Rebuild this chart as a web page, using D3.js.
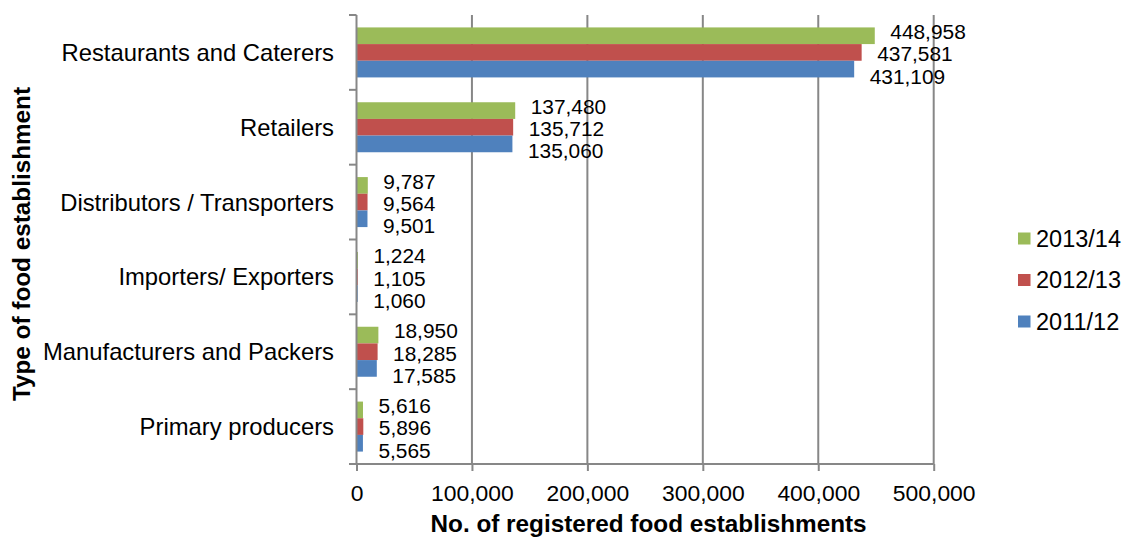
<!DOCTYPE html>
<html>
<head>
<meta charset="utf-8">
<script src="https://cdn.jsdelivr.net/npm/d3@7"></script>
<style>
  html, body { margin: 0; padding: 0; background: #fff; }
  svg { display: block; font-family: Arial, "Liberation Sans", sans-serif; }
</style>
</head>
<body>
<svg id="chart" width="1126" height="538"></svg>
<script>
// Registered food establishments by type, three reporting years
const categories = [
  "Restaurants and Caterers",
  "Retailers",
  "Distributors / Transporters",
  "Importers/ Exporters",
  "Manufacturers and Packers",
  "Primary producers"
];
const seriesNames = ["2013/14", "2012/13", "2011/12"];
const values2013 = [448958, 137480, 9787, 1224, 18950, 5616];
const values2012 = [437581, 135712, 9564, 1105, 18285, 5896];
const values2011 = [431109, 135060, 9501, 1060, 17585, 5565];
const seriesColors = ["#9BBB59", "#C0504D", "#4F81BD"];
const xTicks = [0, 100000, 200000, 300000, 400000, 500000];
const xTitle = "No. of registered food establishments";
const yTitle = "Type of food establishment";

const seriesValues = [values2013, values2012, values2011];

const svg = d3.select("#chart");
const plot = { left: 356.5, right: 933.7, top: 15, bottom: 464 };
const axisColor = "#878787";
const fmt = d3.format(",");

const x = d3.scaleLinear().domain([0, 500000]).range([plot.left, plot.right]);
const y = d3.scaleBand().domain(categories).range([plot.top, plot.bottom]).padding(0);
const yInner = d3.scaleBand().domain(seriesNames).range([0, y.bandwidth()])
  .paddingInner(0).paddingOuter(0.745);

// vertical gridlines
svg.append("g").selectAll("line").data(xTicks.slice(1)).join("line")
  .attr("x1", d => x(d)).attr("x2", d => x(d))
  .attr("y1", plot.top).attr("y2", plot.bottom)
  .attr("stroke", axisColor).attr("stroke-width", 2);

// bars
const groups = svg.append("g").selectAll("g").data(categories).join("g")
  .attr("transform", c => `translate(0,${y(c)})`);

groups.each(function (c, ci) {
  const g = d3.select(this);
  seriesNames.forEach((s, si) => {
    const v = seriesValues[si][ci];
    g.append("rect")
      .attr("x", x(0))
      .attr("y", yInner(s))
      .attr("width", x(v) - x(0))
      .attr("height", yInner.bandwidth())
      .attr("fill", seriesColors[si]);
  });
});

// data labels, stacked around the middle bar so they don't overlap
const labelStep = 22.3;
groups.each(function (c, ci) {
  const g = d3.select(this);
  const mid = y.bandwidth() / 2 + 1.3;
  seriesNames.forEach((s, si) => {
    const v = seriesValues[si][ci];
    g.append("text")
      .attr("x", x(v) + 15.5)
      .attr("y", mid + (si - 1) * labelStep)
      .attr("dy", "0.36em")
      .attr("font-size", 20.9)
      .attr("fill", "#000")
      .text(fmt(v));
  });
});

// y axis line with category boundary ticks
const yAxis = svg.append("g");
yAxis.append("line")
  .attr("x1", plot.left).attr("x2", plot.left)
  .attr("y1", plot.top).attr("y2", plot.bottom)
  .attr("stroke", axisColor).attr("stroke-width", 2);
const boundaries = categories.map(c => y(c)).concat([plot.bottom]);
yAxis.selectAll("line.tick").data(boundaries).join("line")
  .attr("class", "tick")
  .attr("x1", plot.left - 7.5).attr("x2", plot.left)
  .attr("y1", d => d).attr("y2", d => d)
  .attr("stroke", axisColor).attr("stroke-width", 2);

// category labels
svg.append("g").selectAll("text").data(categories).join("text")
  .attr("x", 334)
  .attr("y", c => y(c) + y.bandwidth() / 2)
  .attr("dy", "0.36em")
  .attr("text-anchor", "end")
  .attr("font-size", 23.8)
  .attr("fill", "#000")
  .text(c => c);

// x axis
const xAxisG = svg.append("g").attr("transform", `translate(0,${plot.bottom})`)
  .call(d3.axisBottom(x).tickValues(xTicks).tickFormat(fmt).tickSize(7).tickSizeOuter(0));
xAxisG.select(".domain").remove();
xAxisG.selectAll(".tick line").attr("stroke", axisColor).attr("stroke-width", 2);
xAxisG.selectAll(".tick text")
  .attr("font-size", 22.9)
  .attr("font-family", "Arial, 'Liberation Sans', sans-serif")
  .attr("fill", "#000")
  .attr("y", 0).attr("dy", "36.5px");
xAxisG.append("line")
  .attr("x1", plot.left - 7.5).attr("x2", plot.right)
  .attr("y1", 0).attr("y2", 0)
  .attr("stroke", axisColor).attr("stroke-width", 2);

// axis titles
svg.append("text")
  .attr("x", (plot.left + plot.right) / 2 + 3.5)
  .attr("y", 532)
  .attr("text-anchor", "middle")
  .attr("font-size", 24.3)
  .attr("font-weight", "bold")
  .attr("fill", "#000")
  .text(xTitle);

svg.append("text")
  .attr("transform", "translate(30,244) rotate(-90)")
  .attr("text-anchor", "middle")
  .attr("font-size", 24.3)
  .attr("font-weight", "bold")
  .attr("fill", "#000")
  .text(yTitle);

// legend
const legend = svg.append("g").attr("transform", "translate(1018,238.5)");
seriesNames.forEach((s, i) => {
  const row = legend.append("g").attr("transform", `translate(0,${i * 41.5})`);
  row.append("rect").attr("x", 0).attr("y", -6).attr("width", 12.5).attr("height", 12)
    .attr("fill", seriesColors[i]);
  row.append("text").attr("x", 18).attr("y", 0).attr("dy", "0.36em")
    .attr("font-size", 23.5).attr("fill", "#000").text(s);
});
</script>
</body>
</html>
